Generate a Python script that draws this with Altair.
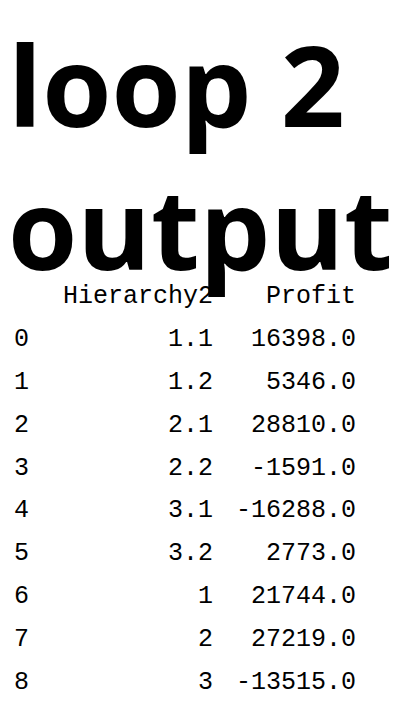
import altair as alt
import pandas as pd

idx = ["0", "1", "2", "3", "4", "5", "6", "7", "8"]
hier = ["1.1", "1.2", "2.1", "2.2", "3.1", "3.2", "1", "2", "3"]
profit = ["16398.0", "5346.0", "28810.0", "-1591.0", "-16288.0", "2773.0", "21744.0", "27219.0", "-13515.0"]

rows = list(range(len(idx)))
df = pd.DataFrame({"row": rows, "idx": idx, "hier": hier, "profit": profit})
hdr = pd.DataFrame({"row": [-1], "hier": ["Hierarchy2"], "profit": ["Profit"]})

y = alt.Y("row:Q", scale=alt.Scale(domain=[-1.5, 8.5], reverse=True), axis=None)
font = dict(font="Liberation Mono", fontSize=25, color="black", baseline="middle")

base = alt.Chart(df)
l_idx = base.mark_text(align="left", **font).encode(x=alt.value(6), y=y, text="idx:N")
l_h = base.mark_text(align="right", **font).encode(x=alt.value(205), y=y, text="hier:N")
l_p = base.mark_text(align="right", **font).encode(x=alt.value(348), y=y, text="profit:N")
h = alt.Chart(hdr)
h_h = h.mark_text(align="right", **font).encode(x=alt.value(205), y=y, text="hier:N")
h_p = h.mark_text(align="right", **font).encode(x=alt.value(348), y=y, text="profit:N")

chart = alt.layer(l_idx, l_h, l_p, h_h, h_p).properties(
    width=384, height=428,
    autosize=alt.AutoSizeParams(type="none"),
    padding={"left": 0, "top": 266, "right": 0, "bottom": 0},
    title=alt.TitleParams(["loop 2", "output"], font="Open Sans", fontWeight="bold",
                          fontSize=112, lineHeight=143, anchor="start", color="black",
                          offset=-20),
).configure_view(stroke=None)

chart.save("out.html", embed_options={"renderer": "svg", "actions": False})
